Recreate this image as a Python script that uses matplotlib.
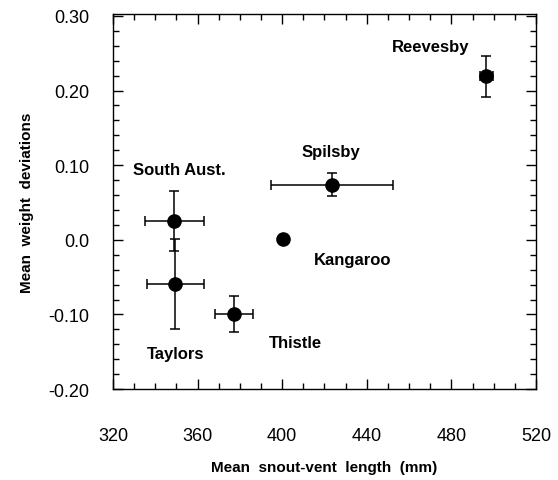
import matplotlib
matplotlib.use('Agg')
import matplotlib.pyplot as plt
from matplotlib.ticker import MultipleLocator, FixedLocator, FixedFormatter

plt.rcParams['font.family'] = ['Liberation Sans', 'DejaVu Sans']

# 数据：各岛屿种群的平均吻肛长与体重偏差
sites = ['Reevesby', 'Spilsby', 'South Aust.', 'Kangaroo', 'Thistle', 'Taylors']
svl = [496.5, 423.5, 349, 400.5, 377, 349.5]
svl_err = [3, 29, 14, 0, 9, 13.5]
wdev = [0.219, 0.074, 0.025, 0.001, -0.099, -0.059]
wdev_err = [0.027, 0.015, 0.040, 0, 0.024, 0.060]

# 标签位置（数据坐标）
label_x = [470, 423, 351.5, 433.5, 406.5, 349.5]
label_y = [0.259, 0.118, 0.094, -0.026, -0.137, -0.152]

yticks = [-0.20, -0.10, 0.0, 0.10, 0.20, 0.30]
ytick_labels = ['-0.20', '-0.10', '0.0', '0.10', '0.20', '0.30']
xticks = [320, 360, 400, 440, 480, 520]

fig = plt.figure(figsize=(5.58, 4.81), dpi=100)
ax = fig.add_axes([0.2025, 0.189, 0.758, 0.78])

ax.errorbar(svl, wdev, xerr=svl_err, yerr=wdev_err, fmt='o', color='black',
            markersize=9.5, ecolor='black', elinewidth=1.1, capsize=3.5, capthick=1.1)

for name, lx, ly in zip(sites, label_x, label_y):
    ax.text(lx, ly, name, ha='center', va='center', fontsize=12, fontweight='bold')

ax.set_xlim(320, 520)
ax.set_ylim(-0.20, 0.3027)
ax.xaxis.set_major_locator(FixedLocator(xticks))
ax.xaxis.set_minor_locator(MultipleLocator(10))
ax.yaxis.set_major_locator(FixedLocator(yticks))
ax.yaxis.set_major_formatter(FixedFormatter(ytick_labels))
ax.yaxis.set_minor_locator(MultipleLocator(0.02))

ax.tick_params(which='both', direction='in', top=True, right=True, width=1)
ax.tick_params(which='major', length=7, labelsize=13)
ax.tick_params(axis='x', which='major', pad=27)
ax.tick_params(axis='y', which='major', pad=17)
ax.tick_params(which='minor', length=4)
for s in ax.spines.values():
    s.set_linewidth(1)

ax.set_xlabel('Mean  snout-vent  length  (mm)', fontsize=11, fontweight='bold', labelpad=12)
ax.set_ylabel('Mean  weight  deviations', fontsize=11, fontweight='bold', labelpad=10)

fig.savefig('out.png', dpi=100)
